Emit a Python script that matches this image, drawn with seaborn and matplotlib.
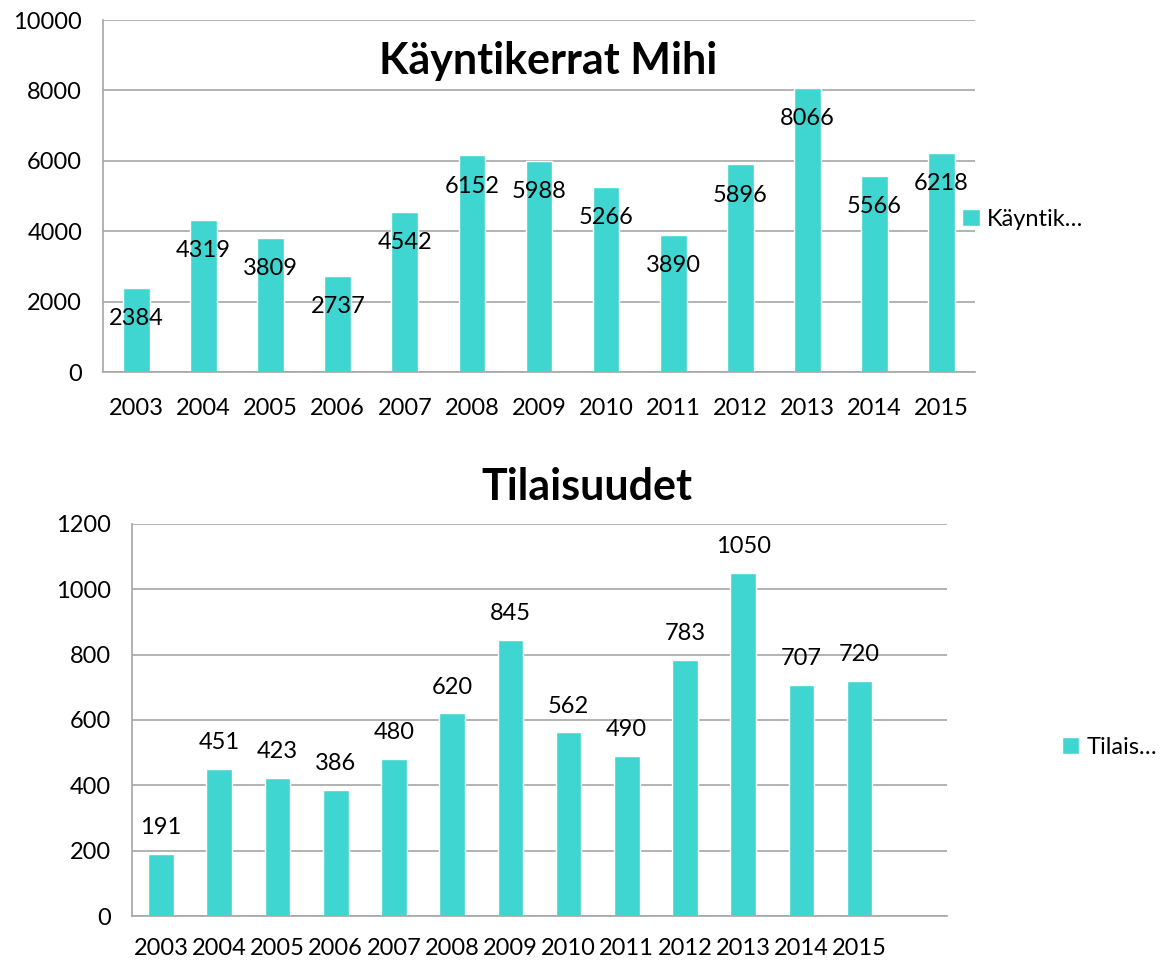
import pandas as pd
import seaborn as sns
import matplotlib.pyplot as plt
from matplotlib.ticker import FixedLocator

years = ["2003", "2004", "2005", "2006", "2007", "2008", "2009",
         "2010", "2011", "2012", "2013", "2014", "2015"]
kaynnit = [2384, 4319, 3809, 2737, 4542, 6152, 5988, 5266, 3890, 5896, 8066, 5566, 6218]
tilaisuudet = [191, 451, 423, 386, 480, 620, 845, 562, 490, 783, 1050, 707, 720]

sns.set_style("white")
plt.rcParams["font.family"] = ["Lato", "DejaVu Sans"]
plt.rcParams["text.color"] = "black"
plt.rcParams["xtick.labelcolor"] = "black"
plt.rcParams["ytick.labelcolor"] = "black"

color = "#3FD5D0"
grid_c = "#a6a6a6"

top = pd.DataFrame({"vuosi": years, "arvo": kaynnit})
bot = pd.DataFrame({"vuosi": years, "arvo": tilaisuudet})

fig = plt.figure(figsize=(11.73, 9.63), dpi=100)
ax1 = fig.add_axes([0.0878, 0.6137, 0.7434, 0.3655])
ax2 = fig.add_axes([0.1125, 0.0488, 0.6948, 0.4071])


def style(ax, ymax, step, nslots, pad):
    ax.set_ylim(0, ymax)
    ax.set_xlim(-0.5, nslots - 0.5)
    ax.set_yticks(range(0, ymax + 1, step))
    ax.yaxis.grid(True, color=grid_c, linewidth=1.2)
    ax.set_axisbelow(True)
    for s in ["top", "right"]:
        ax.spines[s].set_visible(False)
    for s in ["left", "bottom"]:
        ax.spines[s].set_color(grid_c)
        ax.spines[s].set_linewidth(1.2)
    ax.xaxis.set_minor_locator(FixedLocator([i - 0.5 for i in range(nslots + 1)]))
    ax.tick_params(axis="x", which="major", length=0, pad=pad, labelsize=17)
    ax.tick_params(axis="x", which="minor", length=7, color=grid_c, width=1.2)
    ax.tick_params(axis="y", length=7, color=grid_c, width=1.2, labelsize=17, pad=8)
    ax.set_xlabel("")
    ax.set_ylabel("")


sns.barplot(data=top, x="vuosi", y="arvo", color=color, width=0.4,
            saturation=1, ax=ax1, label="Käyntik…")
style(ax1, 10000, 2000, 13, 19)
for p, v in zip(ax1.patches, kaynnit):
    ax1.annotate(str(v), (p.get_x() + p.get_width() / 2, p.get_height()),
                 xytext=(0, -22), textcoords="offset points",
                 ha="center", va="center", fontsize=17)
ax1.legend(loc="center left", bbox_to_anchor=(0.802, 0.772), bbox_transform=fig.transFigure,
           frameon=False, fontsize=17, handlelength=0.75, handleheight=0.75,
           handletextpad=0.3)

sns.barplot(data=bot, x="vuosi", y="arvo", color=color, width=0.44,
            saturation=1, ax=ax2, label="Tilais…")
style(ax2, 1200, 200, 14, 16)
ax2.set_xticks(range(13))
ax2.set_xticklabels(years)
for p, v in zip(ax2.patches, tilaisuudet):
    ax2.annotate(str(v), (p.get_x() + p.get_width() / 2, p.get_height()),
                 xytext=(0, 19), textcoords="offset points",
                 ha="center", va="center", fontsize=17)
ax2.legend(loc="center left", bbox_to_anchor=(0.887, 0.224), bbox_transform=fig.transFigure,
           frameon=False, fontsize=17, handlelength=0.75, handleheight=0.75,
           handletextpad=0.3)

fig.text(0.467, 0.937, "Käyntikerrat Mihi", ha="center", va="center",
         fontsize=31, fontweight="bold")
fig.text(0.500, 0.494, "Tilaisuudet", ha="center", va="center",
         fontsize=31, fontweight="bold")

fig.savefig("out.png", dpi=100)
